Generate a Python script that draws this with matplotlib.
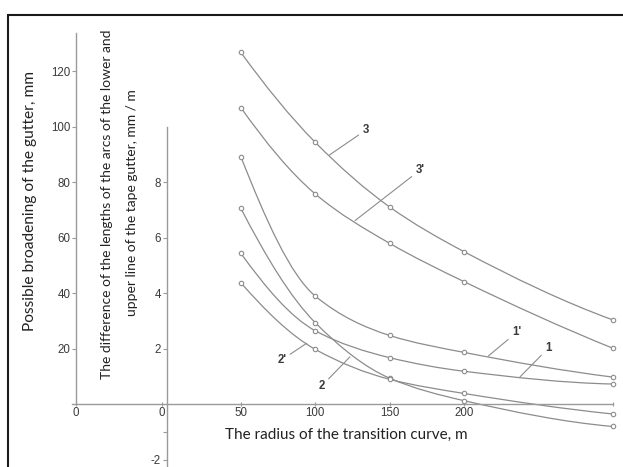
import numpy as np
import matplotlib.pyplot as plt
from matplotlib.path import Path
from matplotlib.patches import PathPatch, Rectangle

plt.rcParams['axes.unicode_minus'] = False

# radius of the transition curve, m
radius = [50, 100, 150, 200, 300]

# possible broadening of the gutter, mm
curve_3 = [126.7, 94.3, 71.0, 54.9, 30.3]
curve_3p = [106.8, 75.7, 57.9, 44.1, 20.1]

# difference of arc lengths, mm / m
curve_1p = [8.91, 3.89, 2.47, 1.86, 0.97]
curve_1 = [5.43, 2.64, 1.67, 1.18, 0.72]
curve_2 = [7.05, 2.93, 0.93, 0.12, -0.81]
curve_2p = [4.37, 1.97, 0.89, 0.38, -0.36]

mm_ticks = [20, 40, 60, 80, 100, 120]
diff_ticks = [-2, 2, 4, 6, 8]
x_ticks = [50, 100, 150, 200]

W, H = 623, 467
GRAY = '#8c8c8c'
AXIS = '#9a9a9a'
TXT = '#3a3a3a'


def pchip_slopes(x, y):
    h = np.diff(x)
    d = np.diff(y) / h
    m = np.zeros(len(x))
    for k in range(1, len(x) - 1):
        if d[k - 1] * d[k] > 0:
            w1 = 2 * h[k] + h[k - 1]
            w2 = h[k] + 2 * h[k - 1]
            m[k] = (w1 + w2) / (w1 / d[k - 1] + w2 / d[k])
    m[0] = ((2 * h[0] + h[1]) * d[0] - h[0] * d[1]) / (h[0] + h[1])
    m[-1] = ((2 * h[-1] + h[-2]) * d[-1] - h[-1] * d[-2]) / (h[-1] + h[-2])
    return m


def smooth_curve(ax, x, y):
    # hermite segments written as bezier curves
    x = np.asarray(x, float)
    y = np.asarray(y, float)
    m = pchip_slopes(x, y)
    verts = [(x[0], y[0])]
    codes = [Path.MOVETO]
    for i in range(len(x) - 1):
        h = x[i + 1] - x[i]
        verts += [(x[i] + h / 3, y[i] + m[i] * h / 3),
                  (x[i + 1] - h / 3, y[i + 1] - m[i + 1] * h / 3),
                  (x[i + 1], y[i + 1])]
        codes += [Path.CURVE4] * 3
    ax.add_patch(PathPatch(Path(verts, codes), fill=False, edgecolor=GRAY, lw=0.9))
    ax.plot(x, y, 'o', ms=3.2, mfc='white', mec=GRAY, mew=0.8, zorder=3)


fig = plt.figure(figsize=(W / 100, H / 100), dpi=100)
ax = fig.add_axes([0, 0, 1, 1])
ax.patch.set_visible(False)
ax.set_xlim(-111.9, 306.8)
ax.set_ylim(-2.27, 14.56)
ax2 = ax.twinx()
ax2.set_ylim(-22.7, 145.6)

x_left = -60.8  # where the mm axis stands

for s in ['top', 'right']:
    ax.spines[s].set_visible(False)
    ax2.spines[s].set_visible(False)
ax2.spines['bottom'].set_visible(False)
ax.spines['left'].set_position(('data', 0))
ax.spines['left'].set_bounds(-2.27, 10.0)
ax.spines['bottom'].set_position(('data', 0))
ax.spines['bottom'].set_bounds(-63.5, 300)
ax2.spines['left'].set_visible(True)
ax2.spines['left'].set_position(('data', x_left))
ax2.spines['left'].set_bounds(0, 133.7)
for sp in [ax.spines['left'], ax.spines['bottom'], ax2.spines['left']]:
    sp.set_color(AXIS)
    sp.set_linewidth(1.0)

ax2.yaxis.tick_left()
ax2.set_yticks(mm_ticks)
ax.set_yticks(diff_ticks)
ax.set_yticks([-1], minor=True)
ax.set_xticks([x_left, -3.2] + x_ticks + [300],
              labels=['0', '0'] + [str(v) for v in x_ticks] + [''])
for a in (ax, ax2):
    a.tick_params(axis='y', which='both', direction='out', length=3, width=0.8,
                  color=AXIS, labelsize=8.3, labelcolor=TXT, pad=1)
ax.tick_params(axis='x', direction='inout', length=3, width=0.8, color=AXIS,
               labelsize=8.3, labelcolor=TXT, pad=0.5)
for lab in ax.get_xticklabels() + ax.get_yticklabels() + ax2.get_yticklabels():
    lab.set_fontfamily('Liberation Sans')

smooth_curve(ax2, radius, curve_3)
smooth_curve(ax2, radius, curve_3p)
smooth_curve(ax, radius, curve_1p)
smooth_curve(ax, radius, curve_1)
smooth_curve(ax, radius, curve_2)
smooth_curve(ax, radius, curve_2p)

# curve numbers with leader lines
labels = [("3", (133.9, 9.87), (109.4, 8.97)),
          ("3'", (170.4, 8.43), (126.7, 6.61)),
          ("1'", (235.3, 2.58), (216.3, 1.73)),
          ("1", (256.6, 2.01), (237.6, 0.98)),
          ("2", (104.3, 0.65), (123.3, 1.70)),
          ("2'", (77.4, 1.59), (94.2, 2.19))]
for text, pos, end in labels:
    ax.annotate(text, xy=end, xytext=pos, ha='center', va='center',
                fontsize=8.3, fontweight='bold', color=TXT, family='Liberation Sans',
                arrowprops=dict(arrowstyle='-', color=GRAY, lw=0.8,
                                shrinkA=1, shrinkB=0))

# axis titles
fig.text(30 / W, 1 - 201 / H, 'Possible broadening of the gutter, mm', rotation=90,
         ha='center', va='center', fontsize=11.2, family='Lato', color='#222')
fig.text(107 / W, 1 - 204 / H,
         'The difference of the lengths of the arcs of the lower and',
         rotation=90, ha='center', va='center', fontsize=10, family='Lato', color='#222')
fig.text(132 / W, 1 - 203 / H, 'upper line of the tape gutter, mm / m',
         rotation=90, ha='center', va='center', fontsize=10, family='Lato', color='#222')
fig.text(346 / W, 1 - 435 / H, 'The radius of the transition curve, m',
         ha='center', va='center', fontsize=11, family='Lato', color='#222')

# outer frame, open to the right and bottom
fig.add_artist(Rectangle((8 / W, -0.5), 2, 1.5 - 15 / H, transform=fig.transFigure,
                         fill=False, edgecolor='#1a1a1a', lw=1.5))

fig.savefig('out.png', dpi=100)
